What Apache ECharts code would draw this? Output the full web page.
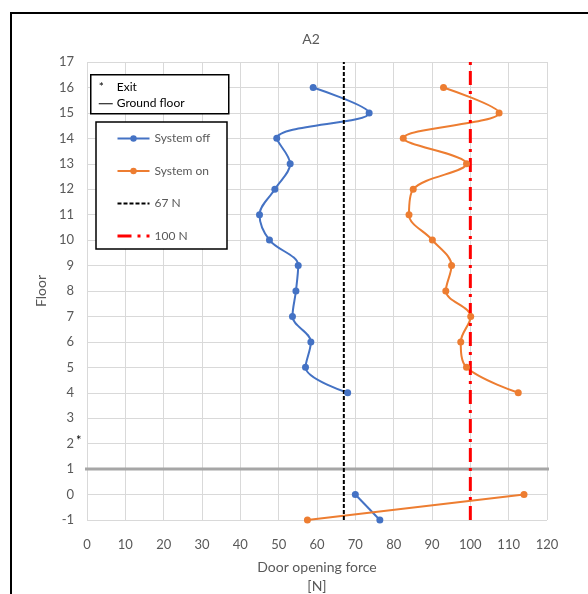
<!DOCTYPE html>
<html lang="en">

<head>
  <meta charset="UTF-8">
  <title>A2</title>
</head>

<body style="margin:0">
<div id="chart" style="width:588px;height:594px"></div>
  <script src="https://cdn.jsdelivr.net/npm/echarts@6/dist/echarts.min.js"></script>
  <script>

// floors above ground (4..16) and basement (0, -1)
const upperFloors = [16, 15, 14, 13, 12, 11, 10, 9, 8, 7, 6, 5, 4];
const offUpper = [59, 73.6, 49.5, 53, 49, 45, 47.6, 55.1, 54.5, 53.6, 58.4, 57, 68];
const onUpper = [93, 107.5, 82.5, 99, 85.1, 84, 90.1, 95.1, 93.6, 100.1, 97.5, 99, 112.5];
const lowerFloors = [0, -1];
const offLower = [70, 76.4];
const onLower = [114, 57.5];

const limitOff = 67;
const limitOn = 100;
const groundFloor = 1;
const exitFloor = 2;

const floorMin = -1, floorMax = 17;
const forceMin = 0, forceMax = 120;

const textColor = '#595959';
const font = 'Lato';

const offStyle = { color: '#000', width: 2, type: [4, 2] };
const onStyle = { color: '#ff0000', width: 3, type: [14, 6, 3, 6] };

function pairs(xs, ys) {
  return xs.map((x, i) => [x, ys[i]]);
}

let myChart = echarts.init(document.getElementById('chart'));

const pointSeries = (name, color, xs, ys) => ({
  name: name,
  type: 'line',
  data: pairs(xs, ys),
  smooth: 0.35,
  symbol: 'circle',
  symbolSize: 7,
  itemStyle: { color: color },
  lineStyle: { color: color, width: 2 }
});

const vLine = (name, x, style) => ({
  name: name,
  type: 'line',
  data: [[x, floorMin], [x, floorMax]],
  symbol: 'none',
  itemStyle: { color: style.color },
  lineStyle: style,
  z: 3
});

myChart.setOption({
  textStyle: { fontFamily: font },
  title: {
    text: 'A2',
    left: 306,
    top: 27,
    textAlign: 'center',
    textStyle: { color: textColor, fontSize: 14, fontWeight: 'normal', fontFamily: font }
  },
  grid: { left: 87, right: 41, top: 62, bottom: 74, outerBoundsMode: 'none', containLabel: false },
  legend: {
    orient: 'vertical',
    left: 96,
    top: 122,
    padding: [10.5, 18, 10.5, 20],
    itemWidth: 32,
    itemHeight: 8,
    itemGap: 20.5,
    z: 5,
    data: [
      'System off',
      'System on',
      { name: '67 N', itemStyle: { opacity: 0 }, lineStyle: offStyle },
      { name: '100 N', itemStyle: { opacity: 0 }, lineStyle: onStyle }
    ],
    textStyle: { color: textColor, fontSize: 12, fontFamily: font }
  },
  xAxis: {
    type: 'value',
    min: forceMin,
    max: forceMax,
    interval: 10,
    name: 'Door opening force\n[N]',
    nameLocation: 'middle',
    nameGap: 38,
    nameTextStyle: { color: textColor, fontSize: 14, lineHeight: 19, fontFamily: font },
    axisLine: { show: false },
    axisTick: { show: false },
    axisLabel: { color: textColor, fontSize: 13, margin: 18, fontFamily: font },
    splitLine: { lineStyle: { color: '#d9d9d9', width: 1 } }
  },
  yAxis: {
    type: 'value',
    min: floorMin,
    max: floorMax,
    interval: 1,
    name: 'Floor',
    nameLocation: 'middle',
    nameGap: 38,
    nameTextStyle: { color: textColor, fontSize: 14, fontFamily: font },
    axisLine: { show: false },
    axisTick: { show: false },
    axisLabel: { color: textColor, fontSize: 13, margin: 13, fontFamily: font },
    splitLine: { lineStyle: { color: '#d9d9d9', width: 1 } }
  },
  series: [
    pointSeries('System off', '#4472c4', offUpper, upperFloors),
    pointSeries('System on', '#ed7d31', onUpper, upperFloors),
    Object.assign(pointSeries('off basement', '#4472c4', offLower, lowerFloors), { smooth: false }),
    Object.assign(pointSeries('on basement', '#ed7d31', onLower, lowerFloors), { smooth: false }),
    vLine('67 N', limitOff, offStyle),
    vLine('100 N', limitOn, onStyle),
    {
      name: 'Ground floor',
      type: 'line',
      data: [[forceMin - 0.8, groundFloor], [forceMax + 1.6, groundFloor]],
      symbol: 'none',
      clip: false,
      lineStyle: { color: '#a6a6a6', width: 3 },
      z: 1
    }
  ]
});

// exit marker next to the floor label, outer frame, legend frame and the small key box
const exitPos = myChart.convertToPixel({ gridIndex: 0 }, [forceMin, exitFloor]);
myChart.setOption({
  graphic: [
    {
      type: 'rect',
      shape: { x: 11, y: 13, width: 620, height: 620 },
      style: { fill: null, stroke: '#000', lineWidth: 2 }
    },
    {
      type: 'rect',
      z: 4,
      shape: { x: 96, y: 122, width: 131, height: 127 },
      style: { fill: '#fff', stroke: '#000', lineWidth: 1.5 }
    },
    {
      type: 'text',
      x: exitPos[0] - 11,
      y: exitPos[1] - 9,
      style: { text: '*', fill: '#000', font: '13px Lato' }
    },
    {
      type: 'group',
      left: 90,
      top: 74,
      z: 4,
      children: [
        {
          type: 'rect',
          shape: { x: 0, y: 0, width: 138, height: 39 },
          style: { fill: '#fff', stroke: '#000', lineWidth: 1.5 }
        },
        { type: 'text', x: 8, y: 6, style: { text: '*', fill: '#000', font: '12px Lato' } },
        { type: 'text', x: 26, y: 6, style: { text: 'Exit', fill: '#000', font: '12px Lato' } },
        {
          type: 'line',
          shape: { x1: 8, y1: 29, x2: 22, y2: 29 },
          style: { stroke: '#000', lineWidth: 1 }
        },
        { type: 'text', x: 26, y: 22, style: { text: 'Ground floor', fill: '#000', font: '12px Lato' } }
      ]
    }
  ]
});
window.addEventListener('resize', () => {
  myChart.resize();
});
  </script>
</body>

</html>
